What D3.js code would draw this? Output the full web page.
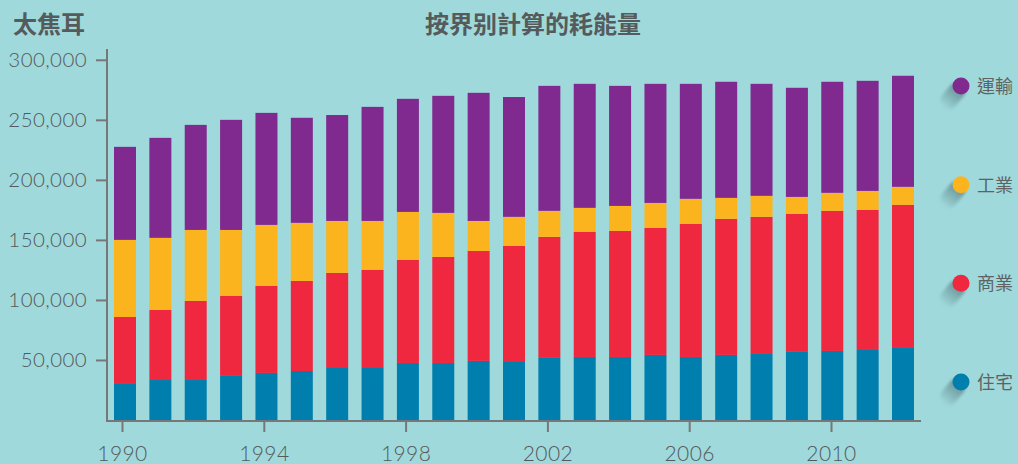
<!DOCTYPE html>
<html>
<head>
<meta charset="utf-8">
<script src="https://cdn.jsdelivr.net/npm/d3@7"></script>
<style>
  body { margin: 0; background: #9fd9db; }
  svg { display: block; }
  .tickText { font-family: Lato, "Noto Sans", sans-serif; font-weight: 300; fill: #55595a; }
  .heading { font-family: "Noto Sans CJK TC", sans-serif; font-size: 24px; font-weight: bold; fill: #555a5b; }
  .legendText { font-family: "Noto Sans CJK TC", sans-serif; font-size: 18px; fill: #5f6263; }
</style>
</head>
<body>
<div id="chart"></div>
<script>
// data, in terajoules
var years = d3.range(1990, 2013);
var seriesNames = ["住宅", "商業", "工業", "運輸"];
var residential = [30000, 33300, 33300, 36700, 39200, 40800, 43300, 43300, 47500, 47500, 49200, 48300, 51700, 52500, 52500, 54200, 52500, 54200, 55000, 56700, 57500, 58300, 60000];
var commercial = [55800, 58400, 65900, 66600, 72500, 75000, 79200, 81700, 85800, 88300, 91600, 96700, 100800, 104200, 105000, 105800, 110800, 113300, 114200, 115000, 116700, 116700, 119200];
var industrial = [64200, 60000, 59100, 55000, 50800, 48400, 43300, 40800, 40000, 36700, 25000, 24200, 21700, 20000, 20800, 20800, 20900, 17500, 17500, 14100, 15000, 15800, 15000];
var transport = [77500, 83300, 87500, 91700, 93300, 87500, 88200, 95000, 94200, 97500, 106700, 99800, 104100, 103300, 100000, 99200, 95800, 96700, 93300, 90900, 92500, 91700, 92500];
var yTicks = [50000, 100000, 150000, 200000, 250000, 300000];
var xTicks = [1990, 1994, 1998, 2002, 2006, 2010];
var colors = ["#007fae", "#ef2840", "#fbb41e", "#80298f"];

var svgWidth = 1018;
var svgHeight = 464;

var svg = d3.select("#chart")
  .append("svg")
  .attr("width", svgWidth)
  .attr("height", svgHeight);

// build rows for the stack
var rows = years.map(function(y, i) {
  return { year: y, "住宅": residential[i], "商業": commercial[i], "工業": industrial[i], "運輸": transport[i] };
});
var stacked = d3.stack().keys(seriesNames)(rows);

var xBand = d3.scaleBand()
  .domain(years)
  .range([107, 921])
  .paddingInner(0.378)
  .paddingOuter(0.198);

// axis ticks sit on a linear year scale
var xYear = d3.scaleLinear()
  .domain([1990, 2010])
  .range([122, 831]);

var yScale = d3.scaleLinear()
  .domain([0, 309000])
  .range([420, 49]);

// bars
svg.selectAll("g.layer")
  .data(stacked)
  .enter()
  .append("g")
  .attr("class", "layer")
  .attr("fill", (d, i) => colors[i])
  .selectAll("rect")
  .data(d => d)
  .enter()
  .append("rect")
  .attr("x", d => xBand(d.data.year))
  .attr("width", xBand.bandwidth())
  .attr("y", d => yScale(d[1]))
  .attr("height", d => yScale(d[0]) - yScale(d[1]));

// y axis
var leftAxis = d3.axisLeft(yScale)
  .tickValues(yTicks)
  .tickFormat(d3.format(","))
  .tickSize(11)
  .tickPadding(9);

var yAxisG = svg.append("g")
  .attr("transform", "translate(107,0)")
  .call(leftAxis);

// x axis
var bottomAxis = d3.axisBottom(xYear)
  .tickValues(xTicks)
  .tickFormat(d3.format("d"))
  .tickSize(12)
  .tickPadding(14);

var xAxisG = svg.append("g")
  .attr("transform", "translate(0,420)")
  .call(bottomAxis);

[yAxisG, xAxisG].forEach(function(g) {
  g.select(".domain").remove();
  g.selectAll(".tick line").attr("stroke", "#777").attr("stroke-width", 2);
  g.selectAll(".tick text").attr("class", "tickText");
});
yAxisG.selectAll(".tick text").style("font-size", "20.5px").attr("letter-spacing", "0.4px");
xAxisG.selectAll(".tick text").style("font-size", "21px").attr("letter-spacing", "0.4px");

svg.append("line")
  .attr("x1", 107).attr("x2", 107)
  .attr("y1", 49).attr("y2", 421)
  .attr("stroke", "#777").attr("stroke-width", 2);
svg.append("line")
  .attr("x1", 106).attr("x2", 921)
  .attr("y1", 421).attr("y2", 421)
  .attr("stroke", "#777").attr("stroke-width", 2);

// titles
svg.append("text")
  .attr("class", "heading")
  .attr("x", 13)
  .attr("y", 33)
  .text("太焦耳");

svg.append("text")
  .attr("class", "heading")
  .attr("x", 533)
  .attr("y", 33)
  .attr("text-anchor", "middle")
  .text("按界别計算的耗能量");

// legend with soft long shadows
var defs = svg.append("defs");
var grad = defs.append("linearGradient")
  .attr("id", "shadowGrad")
  .attr("x1", "0").attr("y1", "0")
  .attr("x2", "1").attr("y2", "0");
grad.append("stop").attr("offset", "0%").attr("stop-color", "#4a6b70").attr("stop-opacity", 0.75);
grad.append("stop").attr("offset", "100%").attr("stop-color", "#4a6b70").attr("stop-opacity", 0);
defs.append("filter").attr("id", "blur")
  .append("feGaussianBlur").attr("stdDeviation", 1.6);

var legendY = d3.scalePoint()
  .domain(seriesNames.slice().reverse())
  .range([86, 382]);

var legend = svg.selectAll("g.legend")
  .data(seriesNames)
  .enter()
  .append("g")
  .attr("class", "legend")
  .attr("transform", d => `translate(961, ${legendY(d)})`);

legend.append("rect")
  .attr("x", -2)
  .attr("y", -8.5)
  .attr("width", 30)
  .attr("height", 17)
  .attr("rx", 8.5)
  .attr("fill", "url(#shadowGrad)")
  .attr("filter", "url(#blur)")
  .attr("transform", "rotate(130)");

legend.append("circle")
  .attr("r", 8.5)
  .attr("fill", (d, i) => colors[i]);

legend.append("text")
  .attr("class", "legendText")
  .attr("x", 16)
  .attr("y", 7)
  .text(d => d);
</script>
</body>
</html>
